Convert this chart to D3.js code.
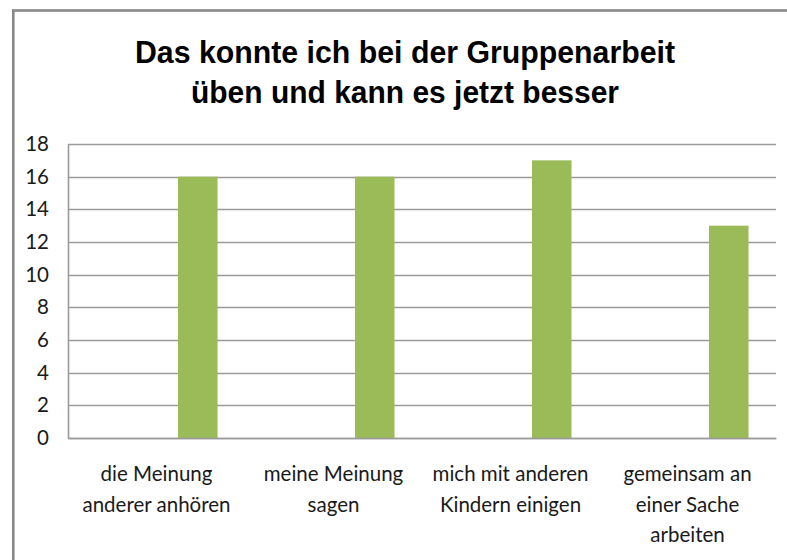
<!DOCTYPE html>
<html>
<head>
<meta charset="utf-8">
<script src="https://cdn.jsdelivr.net/npm/d3@7"></script>
<style>
  html, body { margin: 0; padding: 0; background: #fff; }
  svg { display: block; }
</style>
</head>
<body>
<svg id="chart" width="787" height="560"></svg>
<script>
const titleLines = ["Das konnte ich bei der Gruppenarbeit", "üben und kann es jetzt besser"];
const categories = [
  ["die Meinung", "anderer anhören"],
  ["meine Meinung", "sagen"],
  ["mich mit anderen", "Kindern einigen"],
  ["gemeinsam an", "einer Sache", "arbeiten"]
];
const seriesNames = ["Reihe 1", "Reihe 2", "Reihe 3"];
const values = [16, 16, 17, 13];   // Reihe 3 (the only filled series)
const yTicks = [0, 2, 4, 6, 8, 10, 12, 14, 16, 18];

const svg = d3.select("#chart");
const W = 787, H = 560;
const plot = { left: 68, right: 776, top: 144, bottom: 438 };

// outer border
svg.append("rect")
  .attr("x", 13.3).attr("y", 10.5)
  .attr("width", W + 20).attr("height", H + 20)
  .attr("fill", "none").attr("stroke", "#888").attr("stroke-width", 2.6);

// title
const titleLens = [540, 428];
svg.append("g").selectAll("text").data(titleLines).join("text")
  .attr("x", 405)
  .attr("y", (d, i) => 62.5 + i * 40.8)
  .attr("text-anchor", "middle")
  .attr("font-family", "Liberation Sans, Arial, sans-serif")
  .attr("font-weight", "bold")
  .attr("font-size", 31.5)
  .attr("fill", "#000")
  .attr("textLength", (d, i) => titleLens[i])
  .attr("lengthAdjust", "spacingAndGlyphs")
  .text(d => d);

const keys = categories.map(c => c.join(" "));
const x = d3.scaleBand().domain(keys).range([plot.left, plot.right]).paddingInner(0).paddingOuter(0);
const x1 = d3.scaleBand().domain(seriesNames).range([0, x.bandwidth()])
  .paddingInner(0).paddingOuter(0.74).align(0.53);
const y = d3.scaleLinear().domain([0, 18]).range([plot.bottom, plot.top]);

// gridlines
svg.append("g").selectAll("line").data(yTicks).join("line")
  .attr("x1", plot.left).attr("x2", plot.right)
  .attr("y1", d => Math.round(y(d)) + 0.5).attr("y2", d => Math.round(y(d)) + 0.5)
  .attr("stroke", "#9a9a9a").attr("stroke-width", 1.6);

// y axis
const yAxis = svg.append("g")
  .attr("transform", `translate(${plot.left},0)`)
  .call(d3.axisLeft(y).tickValues(yTicks).tickSize(0).tickPadding(19).tickFormat(d3.format("d")));
yAxis.select(".domain").attr("stroke", "#9a9a9a").attr("stroke-width", 1.6);
yAxis.selectAll("text")
  .attr("font-family", "Lato, Carlito, sans-serif")
  .attr("font-size", 20.5)
  .attr("fill", "#1a1a1a");

// bars
svg.append("g").selectAll("rect").data(values).join("rect")
  .attr("x", (d, i) => x(keys[i]) + x1("Reihe 3"))
  .attr("width", x1.bandwidth())
  .attr("y", d => y(d))
  .attr("height", d => y(0) - y(d))
  .attr("fill", "#9bbb59");

// x axis
const xAxis = svg.append("g")
  .attr("transform", `translate(0,${plot.bottom})`)
  .call(d3.axisBottom(x).tickSize(0).tickFormat(""));
xAxis.select(".domain").attr("stroke", "#9a9a9a").attr("stroke-width", 1.6);
xAxis.selectAll(".tick").each(function(d, i) {
  const t = d3.select(this).append("text")
    .attr("text-anchor", "middle")
    .attr("font-family", "Lato, Carlito, sans-serif")
    .attr("font-size", 20.5)
    .attr("fill", "#1a1a1a");
  categories[i].forEach((line, j) => {
    t.append("tspan").attr("x", 0).attr("y", 43 + j * 30.5).text(line);
  });
});
</script>
</body>
</html>
